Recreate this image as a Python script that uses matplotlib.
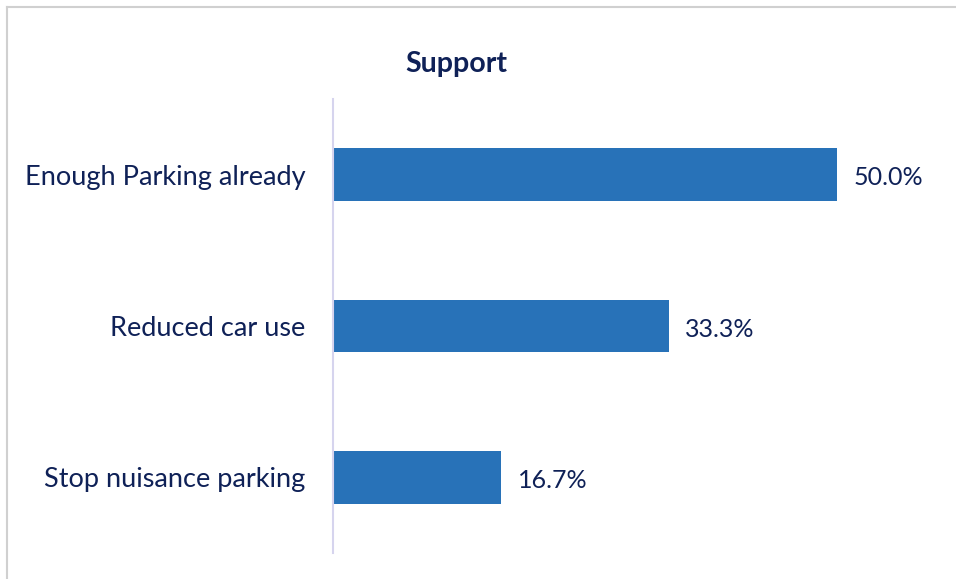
import matplotlib.pyplot as plt
from matplotlib.lines import Line2D

# survey answers, top to bottom
categories = ['Enough Parking already', 'Reduced car use', 'Stop nuisance parking']
shares = [50.0, 33.3, 16.7]
value_labels = ['50.0%', '33.3%', '16.7%']

navy = '#0f2157'
bar_color = '#2872b8'

plt.rcParams['font.family'] = ['Lato', 'DejaVu Sans']

fig = plt.figure(figsize=(9.56, 5.79), dpi=100)
ax = fig.add_axes([333 / 956, 1 - 553 / 579, 607 / 956, 454 / 579])

ypos = list(range(len(categories)))
ax.barh(ypos, shares, height=0.35, color=bar_color)
for y, v, lab in zip(ypos, shares, value_labels):
	ax.text(v + 1.6, y + 0.02, lab, va='center', ha='left', fontsize=18, color=navy)

ax.set_xlim(0, 60.2)
ax.set_ylim(len(categories) - 0.5, -0.5)
ax.set_yticks(ypos)
ax.set_yticklabels(categories, fontsize=19.5, color=navy)
ax.tick_params(axis='y', length=0, pad=20)
ax.set_xticks([])
for side in ['top', 'right', 'bottom']:
	ax.spines[side].set_visible(False)
ax.spines['left'].set_color('#d6d4ee')
ax.spines['left'].set_linewidth(1.5)

fig.text(456 / 956, 1 - 64 / 579, 'Support', ha='center', va='center',
	fontsize=20.5, fontweight='bold', color=navy)

# frame edges on the left and top
fig.add_artist(Line2D([7 / 956, 7 / 956], [0, 1 - 7 / 579], transform=fig.transFigure, color='#d0d0d0', lw=1.5))
fig.add_artist(Line2D([7 / 956, 1], [1 - 7 / 579, 1 - 7 / 579], transform=fig.transFigure, color='#d0d0d0', lw=1.5))

fig.savefig('out.png', dpi=100)
